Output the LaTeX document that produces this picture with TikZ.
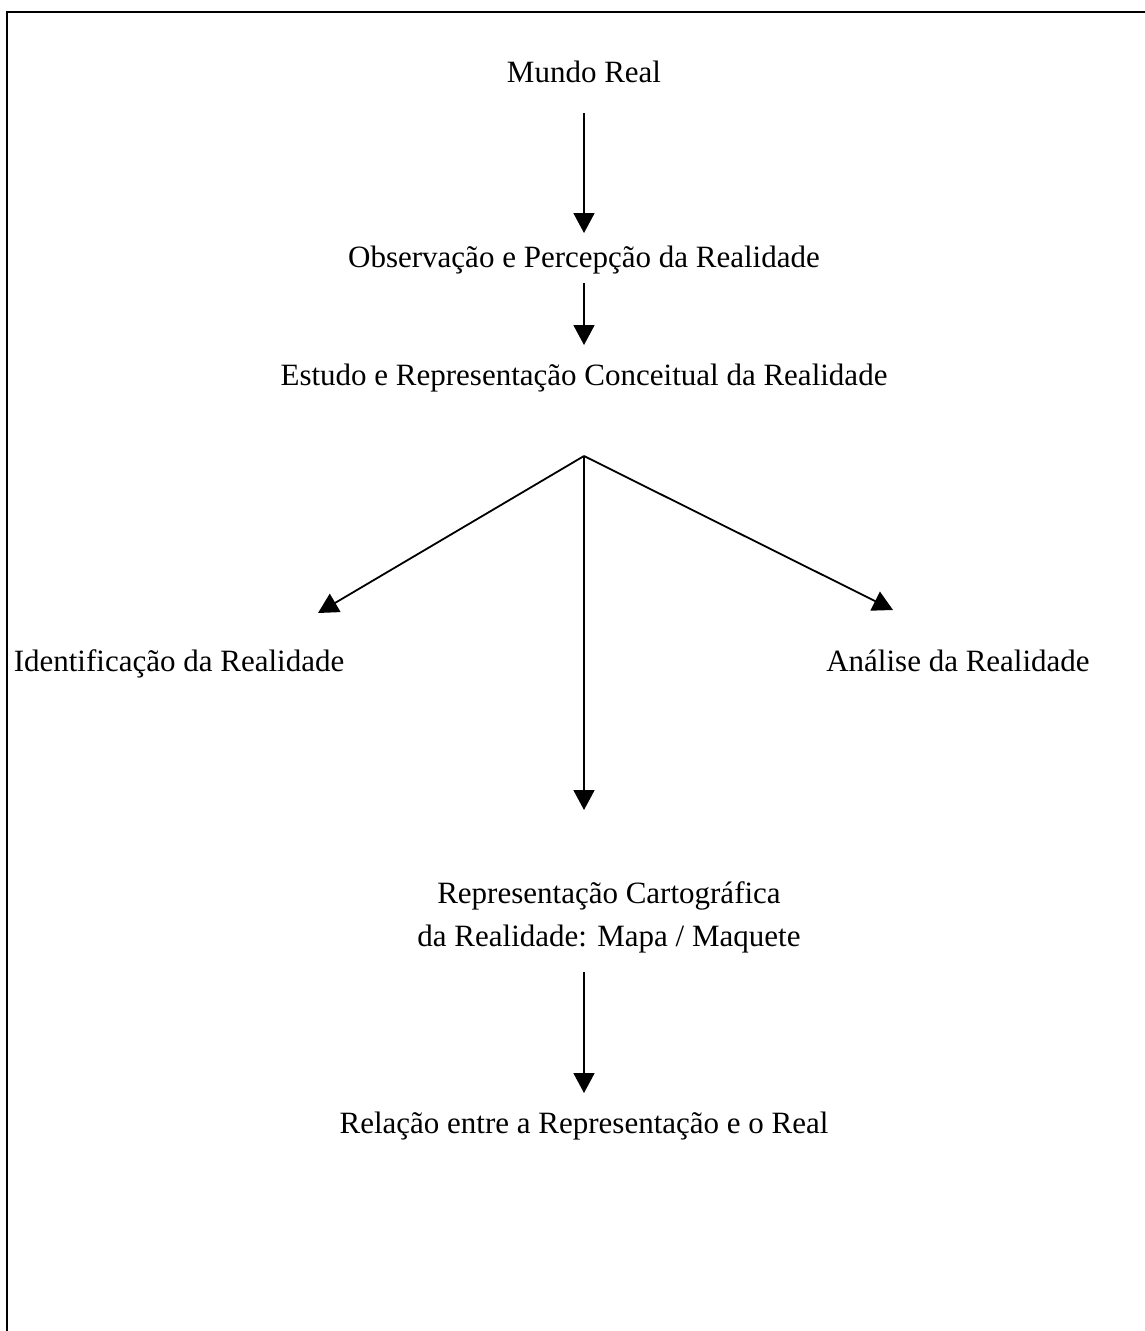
\documentclass[tikz,border=0pt]{standalone}
\usepackage{fontspec}
\setmainfont{Liberation Serif}
\usetikzlibrary{arrows.meta}
\begin{document}
\begin{tikzpicture}[x=1pt,y=-1pt,
  lbl/.style={inner sep=0pt, font=\fontsize{31}{44}\selectfont, anchor=base},
  arr/.style={line width=1.8pt, -{Triangle[length=20pt,width=21pt]}},
  frame/.style={line width=2.5pt}]
\useasboundingbox (0,0) rectangle (1145,1331);

% open frame: top and left edges
\draw[frame] (7,1340) -- (7,12) -- (1150,12);

% labels
\node[lbl] (mundo) at (584,82) {Mundo Real};
\node[lbl] (obs)   at (584,267) {Observação e Percepção da Realidade};
\node[lbl] (est)   at (584,385) {Estudo e Representação Conceitual da Realidade};
\node[lbl] (ident) at (179,671) {Identificação da Realidade};
\node[lbl] (anal)  at (958,671) {Análise da Realidade};
\node[inner sep=0pt, font=\fontsize{31}{43}\selectfont, align=center, anchor=north]
      (rep) at (609,881) {Representação Cartográfica\\da Realidade: Mapa / Maquete};
\node[lbl] (rel)   at (584,1133) {Relação entre a Representação e o Real};

% connector end points
\coordinate (split) at (584,456);
\coordinate (tipL)  at (318,613);
\coordinate (tipR)  at (893,610);
\coordinate (tipD)  at (584,810);

% connectors
\draw[arr] (mundo.south |- 0,113) -- (mundo.south |- 0,233);
\draw[arr] (obs.south |- 0,283) -- (obs.south |- 0,345);
\draw[arr] (split) -- (tipL);
\draw[arr] (split) -- (tipR);
\draw[arr] (split) -- (tipD);
\draw[arr] (split |- 0,972) -- (split |- 0,1093);
\end{tikzpicture}
\end{document}
